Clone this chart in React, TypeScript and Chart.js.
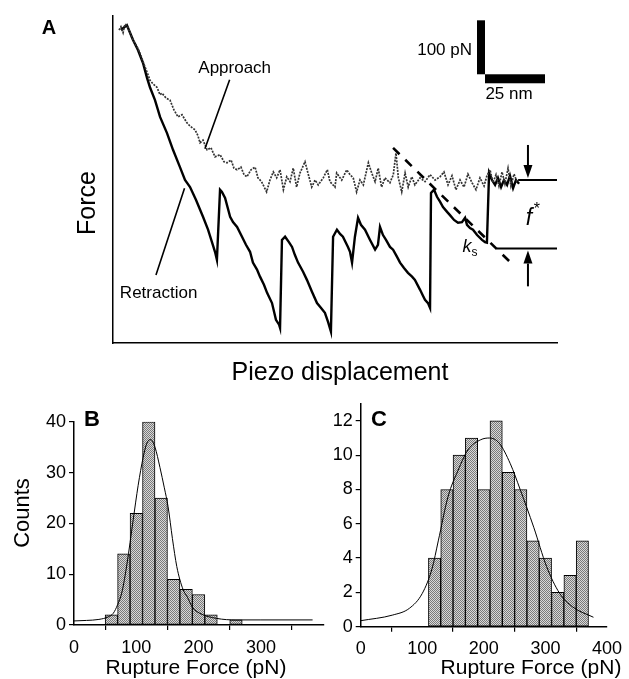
import React, { useEffect, useRef } from "react";
import { Chart, registerables } from "chart.js";
Chart.register(...registerables);

const FONT = '"Liberation Sans", Arial, Helvetica, sans-serif';

// ---------------- Panel A: force trace (nm, pN) ----------------
const approachNm = [2.5,3.3,4.2,5,5.8,7.1,8.3,10,11.25,12.5,13.3,14.6,15.4,16.7,18.3,19.6,20.4,22.1,23.75,25.4,27.1,28.75,30.8,32.1,34.2,35.4,36.25,37.5,39.2,40.8,42.5,44.6,46.25,47.5,49.2,50.4,51.7,53.3,54.6,55.8,57.5,59.2,60.4,61.9,64,65.4,66.8,68.2,69.6,71,72.4,73.75,75.1,76.5,77.9,80,81.4,82.8,84.2,85.5,87.6,89.3,90.4,92.5,93.2,95.3,97.4,98.75,100.1,101.5,102.9,104.3,106.4,107.8,109.2,110.5,111.9,113.3,115.4,116.8,117.9,118.9,120.3,121.7,123,124.5,125.8,127.9,130,132.1,134.2,136.25,137.9,139.6,141.25,142.9,144.6,146.25,147.9,149.6,151.25,152.9,154.6,155.8,157.1,158.3,159.6,160.8,162.1,163.3,164.6,165.8,167.1,168.3];
const approachPN = [287,293,282,298,296,282,269,256,244,228,219,204,194,187,181,167,170,161,157,139,126,130,115,109,102,91,78,83,65,69,52,56,43,41,46,31,28,33,19,15,28,33,13,6,-13,9,24,13,28,-9,15,6,31,-4,22,43,19,-4,9,0,13,28,6,-4,22,9,28,19,13,-13,9,0,41,22,6,31,-4,13,4,19,59,13,-13,22,-4,15,0,13,6,19,9,15,24,0,17,-9,9,-4,20,4,-9,13,-2,17,28,4,19,-2,24,2,31,-2,20,6];
const retractionNm = [3.3,5.8,8.3,10.4,12.5,14.2,15.4,17.5,19.6,22.5,25,27.9,30,32.1,34.6,37.5,39.6,41.3,42.5,43.3,44.6,45.4,46.7,48.8,50,51.7,53.75,55.4,57.1,58.3,60,61.25,62.9,64.2,66.25,67.9,69.2,69.6,70.4,71.7,73.3,74.6,75.8,77.1,79.2,80.8,82.9,85,86.7,88.3,89.6,90.8,91.7,93.3,94.6,95.8,97.9,98.75,99.6,100.8,102.1,103.3,105,107.1,109.2,110.4,111.25,112.5,113.75,115.4,116.7,118.3,119.6,121.25,122.9,124.6,125.8,127.9,129.2,130,131.25,132.1,132.5,133.75,135,136.25,137.5,139.2,140.4,142.1,143.75,145.4,146.7,147.5,148.75,150,151.7,153.75,155,155.8,156.7,157.9,159.2,160.4,161.7,162.9,164.2,165.4,166.7,167.9,169.2];
const retractionPN = [287,296,269,250,226,198,181,157,126,96,65,33,9,-4,-28,-59,-83,-107,-124,-139,-9,-13,-24,-59,-69,-78,-96,-111,-124,-144,-157,-170,-185,-200,-219,-250,-259,-265,-102,-96,-106,-115,-130,-144,-161,-176,-198,-219,-228,-237,-254,-272,-96,-83,-91,-96,-115,-124,-144,-96,-61,-74,-83,-102,-120,-111,-78,-93,-102,-115,-120,-133,-144,-154,-163,-170,-176,-194,-206,-213,-219,-228,-15,-9,-22,-31,-41,-50,-56,-65,-70,-69,-61,-74,-80,-83,-93,-102,-106,-107,22,9,0,13,-4,9,0,17,-6,9,2];
const slopeNm = [116.7, 167.1];
const slopePN = [68.5, -150];
const fStarUpperPN = 9;
const fStarLowerPN = -118;
const scaleBarPN = 100;
const scaleBarNm = 25;

// ---------------- Panel B ----------------
const binCentersB = [60,80,100,120,140,160,180,200,220,240,260];
const countsB = [2,14,22,40,25,9,7,6,2,0,1];
const fitForceB = [0,20,40,55,63,70,77,85,95,103,111,117,123,130,138,145,151,158,165,175,182,190,202,229,260,300,383];
const fitCountsB = [0.8,0.9,1.1,1.6,2.3,4.0,6.5,12,20.7,27.5,33,35.8,36.5,35,31,27,23.3,17,11.5,7,5.5,3.5,2.3,1.3,1.0,1.0,1.0];
const xTicksB = [0,100,200,300,400];
const xTickLabelsB = ["0","100","200","300",""];
const yTicksB = [0,10,20,30,40];

// ---------------- Panel C ----------------
const binCentersC = [120,140,160,180,200,220,240,260,280,300,320,340,360];
const countsC = [4,8,10,11,8,12,9,8,5,4,2,3,5];
const fitForceC = [0,52,79,100,116,126,142,158,174,195,209,225,243,259,281,302,323,344,378];
const fitCountsC = [0.35,0.68,1.07,1.94,3.4,5.0,7.6,9.1,10.3,10.9,11.0,10.7,9.5,8.0,5.8,3.5,1.95,1.16,0.55];
const xTicksC = [0,100,200,300,400];
const xTickLabelsC = ["0","100","200","300","400"];
const yTicksC = [0,2,4,6,8,10,12];

function arrow(ctx: CanvasRenderingContext2D, x: number, yFrom: number, yTo: number) {
  const dir = yTo > yFrom ? 1 : -1;
  const head = 13;
  ctx.lineWidth = 2;
  ctx.beginPath();
  ctx.moveTo(x, yFrom);
  ctx.lineTo(x, yTo - dir * head);
  ctx.stroke();
  ctx.beginPath();
  ctx.moveTo(x, yTo);
  ctx.lineTo(x - 4.5, yTo - dir * head);
  ctx.lineTo(x + 4.5, yTo - dir * head);
  ctx.closePath();
  ctx.fill();
}

function PanelA() {
  const ref = useRef<HTMLCanvasElement>(null);
  useEffect(() => {
    const annot = {
      id: "annotA",
      afterDraw(chart: any) {
        const ctx: CanvasRenderingContext2D = chart.ctx;
        const sx = chart.scales.x, sy = chart.scales.y;
        const px = (v: number) => sx.getPixelForValue(v);
        const py = (v: number) => sy.getPixelForValue(v);
        ctx.save();
        ctx.fillStyle = "#000";
        ctx.strokeStyle = "#000";
        ctx.textAlign = "center";
        ctx.textBaseline = "middle";
        ctx.font = `bold 20px ${FONT}`;
        ctx.fillText("A", 49, 28);
        ctx.font = `25px ${FONT}`;
        ctx.save();
        ctx.translate(88, 203);
        ctx.rotate(-Math.PI / 2);
        ctx.fillText("Force", 0, 0);
        ctx.restore();
        ctx.fillText("Piezo displacement", 340, 373);

        // scale bar
        const sbTop = 305, sbNm = 155;
        const x0 = px(sbNm), yT = py(sbTop), yB = py(sbTop - scaleBarPN);
        ctx.fillRect(x0 - 8, yT, 8, yB - yT);
        ctx.fillRect(x0, yB, px(sbNm + scaleBarNm) - x0, 9);
        ctx.font = `17px ${FONT}`;
        ctx.textAlign = "right";
        ctx.fillText("100 pN", x0 - 13, 50);
        ctx.textAlign = "center";
        ctx.fillText("25 nm", (x0 + px(sbNm + scaleBarNm)) / 2 - 6, 94);

        // Approach / Retraction labels
        ctx.fillText("Approach", px(50.7), py(216));
        ctx.fillText("Retraction", px(19), py(-200));
        ctx.lineWidth = 1.6;
        ctx.beginPath();
        ctx.moveTo(px(48.6), py(195));
        ctx.lineTo(px(38.3), py(67));
        ctx.moveTo(px(17.9), py(-167));
        ctx.lineTo(px(29.8), py(-6));
        ctx.stroke();

        // f* markers
        ctx.lineWidth = 2;
        ctx.beginPath();
        ctx.moveTo(px(168.8), py(fStarUpperPN));
        ctx.lineTo(px(185), py(fStarUpperPN));
        ctx.moveTo(px(160), py(fStarLowerPN));
        ctx.lineTo(px(185), py(fStarLowerPN));
        ctx.stroke();
        const ax = px(172.9);
        arrow(ctx, ax, py(fStarUpperPN + 65), py(fStarUpperPN) - 2);
        arrow(ctx, ax, py(fStarLowerPN - 70), py(fStarLowerPN) + 2);
        const mid = (py(fStarUpperPN) + py(fStarLowerPN)) / 2;
        ctx.font = `italic 23px ${FONT}`;
        ctx.fillText("f", ax + 1, mid + 4);
        ctx.font = `16px ${FONT}`;
        ctx.fillText("*", ax + 9, mid - 5);
        ctx.font = `italic 18px ${FONT}`;
        ctx.fillText("k", px(147.5), py(-115));
        ctx.font = `12px ${FONT}`;
        ctx.fillText("s", px(150.6), py(-126));
        ctx.restore();
      },
    };
    const chart = new Chart(ref.current!, {
      type: "line",
      data: {
        datasets: [
          {
            label: "Approach",
            data: approachNm.map((v, i) => ({ x: v, y: approachPN[i] })),
            borderColor: "#333",
            borderWidth: 1.7,
            borderDash: [2, 1.2],
            pointRadius: 0,
            tension: 0,
          },
          {
            label: "Retraction",
            data: retractionNm.map((v, i) => ({ x: v, y: retractionPN[i] })),
            borderColor: "#000",
            borderWidth: 2.4,
            pointRadius: 0,
            tension: 0,
          },
          {
            label: "ks",
            data: slopeNm.map((v, i) => ({ x: v, y: slopePN[i] })),
            borderColor: "#000",
            borderWidth: 2.6,
            borderDash: [9, 8],
            pointRadius: 0,
          },
        ],
      },
      options: {
        responsive: false,
        animation: false,
        events: [],
        layout: { padding: { left: 113, right: 72, top: 16, bottom: 52 } },
        plugins: { legend: { display: false }, tooltip: { enabled: false } },
        scales: {
          x: {
            type: "linear", min: 0, max: 185,
            ticks: { display: false }, grid: { display: false },
            border: { display: true, color: "#000", width: 1.5 },
            afterFit: (s: any) => { s.height = 0; },
          },
          y: {
            type: "linear", min: -293, max: 313,
            ticks: { display: false }, grid: { display: false },
            border: { display: true, color: "#000", width: 1.5 },
            afterFit: (s: any) => { s.width = 0; },
          },
        },
      },
      plugins: [annot],
    } as any);
    return () => chart.destroy();
  }, []);
  return <canvas ref={ref} width={629} height={395} style={{ position: "absolute", left: 0, top: 0 }} />;
}

type HistProps = {
  left: number; top: number; width: number; height: number;
  area: { left: number; right: number; top: number; bottom: number };
  centers: number[]; counts: number[]; fitX: number[]; fitY: number[];
  xTicks: number[]; xLabels: string[]; yTicks: number[]; yMax: number;
  letter: string; letterPos: [number, number]; titlePos: [number, number];
  yTitle?: string; yTitlePos?: [number, number];
};

function makePattern(): CanvasPattern | string {
  const pc = document.createElement("canvas");
  pc.width = 2; pc.height = 2;
  const c = pc.getContext("2d");
  if (!c) return "#b0b0b0";
  c.fillStyle = "#d8d8d8"; c.fillRect(0, 0, 2, 2);
  c.fillStyle = "#7a7a7a"; c.fillRect(0, 0, 1, 1); c.fillRect(1, 1, 1, 1);
  return c.createPattern(pc, "repeat") || "#b0b0b0";
}

function Histogram(p: HistProps) {
  const ref = useRef<HTMLCanvasElement>(null);
  useEffect(() => {
    const labels = {
      id: "labels" + p.letter,
      afterDraw(chart: any) {
        const ctx: CanvasRenderingContext2D = chart.ctx;
        ctx.save();
        ctx.fillStyle = "#000";
        ctx.textAlign = "center";
        ctx.textBaseline = "middle";
        ctx.font = `bold 22px ${FONT}`;
        ctx.fillText(p.letter, p.letterPos[0], p.letterPos[1]);
        ctx.font = `21px ${FONT}`;
        ctx.fillText("Rupture Force (pN)", p.titlePos[0], p.titlePos[1]);
        if (p.yTitle && p.yTitlePos) {
          ctx.save();
          ctx.translate(p.yTitlePos[0], p.yTitlePos[1]);
          ctx.rotate(-Math.PI / 2);
          ctx.font = `22px ${FONT}`;
          ctx.fillText(p.yTitle, 0, 0);
          ctx.restore();
        }
        ctx.restore();
      },
    };
    const tickFont = { family: FONT, size: 18 };
    const chart = new Chart(ref.current!, {
      type: "bar",
      data: {
        datasets: [
          {
            type: "line",
            data: p.fitX.map((v, i) => ({ x: v, y: p.fitY[i] })),
            borderColor: "#000",
            borderWidth: 1,
            pointRadius: 0,
            tension: 0.4,
            cubicInterpolationMode: "monotone",
            order: 0,
          },
          {
            type: "bar",
            data: p.centers.map((v, i) => ({ x: v, y: p.counts[i] })),
            backgroundColor: makePattern(),
            borderColor: "#000",
            borderWidth: 1,
            borderSkipped: false,
            barPercentage: 1,
            categoryPercentage: 1,
            order: 1,
          },
        ],
      },
      options: {
        responsive: false,
        animation: false,
        events: [],
        layout: {
          padding: { left: 0, top: p.area.top, right: p.width - p.area.right, bottom: 0 },
        },
        plugins: { legend: { display: false }, tooltip: { enabled: false } },
        scales: {
          x: {
            type: "linear", min: 0, max: 400, offset: false,
            afterBuildTicks: (s: any) => { s.ticks = p.xTicks.map((v) => ({ value: v })); },
            afterFit: (s: any) => { s.height = p.height - p.area.bottom; },
            ticks: {
              callback: (v: any) => p.xLabels[p.xTicks.indexOf(Number(v))] ?? "",
              font: tickFont, color: "#000", padding: 7, maxRotation: 0, autoSkip: false,
            },
            grid: { display: true, drawOnChartArea: false, drawTicks: true, tickLength: 5, color: "#000", lineWidth: 1.2 },
            border: { display: true, color: "#000", width: 1.5 },
          },
          y: {
            type: "linear", min: 0, max: p.yMax,
            afterBuildTicks: (s: any) => { s.ticks = p.yTicks.map((v) => ({ value: v })); },
            afterFit: (s: any) => { s.width = p.area.left; },
            ticks: { font: tickFont, color: "#000", padding: 3, autoSkip: false },
            grid: { display: true, drawOnChartArea: false, drawTicks: true, tickLength: 5, color: "#000", lineWidth: 1.2 },
            border: { display: true, color: "#000", width: 1.5 },
          },
        },
      },
      plugins: [labels],
    } as any);
    return () => chart.destroy();
  }, []);
  return (
    <canvas
      ref={ref}
      width={p.width}
      height={p.height}
      style={{ position: "absolute", left: p.left, top: p.top }}
    />
  );
}

export default function App() {
  return (
    <div style={{ position: "absolute", left: 0, top: 0, width: 629, height: 679, background: "#fff", overflow: "hidden" }}>
      <PanelA />
      <Histogram
        left={0} top={380} width={335} height={299}
        area={{ left: 74, right: 323.2, top: 41.8, bottom: 245 }}
        centers={binCentersB} counts={countsB} fitX={fitForceB} fitY={fitCountsB}
        xTicks={xTicksB} xLabels={xTickLabelsB} yTicks={yTicksB} yMax={40}
        letter="B" letterPos={[92, 40]} titlePos={[196, 288]}
        yTitle="Counts" yTitlePos={[23, 133]}
      />
      <Histogram
        left={330} top={380} width={299} height={299}
        area={{ left: 30.7, right: 281.7, top: 23.7, bottom: 246.7 }}
        centers={binCentersC} counts={countsC} fitX={fitForceC} fitY={fitCountsC}
        xTicks={xTicksC} xLabels={xTickLabelsC} yTicks={yTicksC} yMax={13}
        letter="C" letterPos={[49, 40]} titlePos={[201, 288]}
      />
    </div>
  );
}
